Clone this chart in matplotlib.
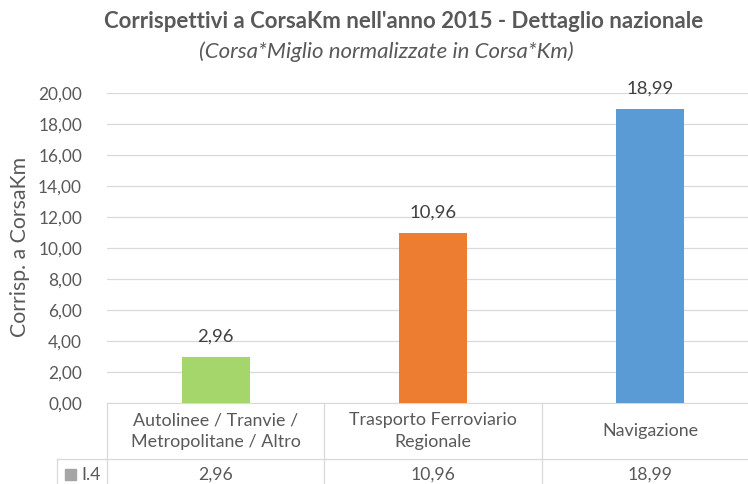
import matplotlib
matplotlib.use("Agg")
import matplotlib.pyplot as plt
from matplotlib.transforms import blended_transform_factory
from matplotlib.patches import Rectangle

categories = ["Autolinee / Tranvie /\nMetropolitane / Altro",
              "Trasporto Ferroviario\nRegionale",
              "Navigazione"]
values = [2.96, 10.96, 18.99]
colors = ["#A5D66C", "#ED7D31", "#5B9BD5"]
series_name = "I.4"
yticks = [0, 2, 4, 6, 8, 10, 12, 14, 16, 18, 20]

def fmt(v):
    return f"{v:.2f}".replace(".", ",")

plt.rcParams["font.family"] = ["Lato", "DejaVu Sans"]
TXT = "#595959"
GRID = "#D9D9D9"

W, H = 748, 484
fig = plt.figure(figsize=(W / 100, H / 100), dpi=100)
ax = fig.add_axes([107 / W, 81 / H, (759 - 107) / W, 310 / H])

x = list(range(len(categories)))
ax.bar(x, values, width=0.313, color=colors, zorder=3)
ax.set_xlim(-0.5, 2.5)
ax.set_ylim(0, 20)
ax.set_yticks(yticks)
ax.set_yticklabels([fmt(t) for t in yticks], color=TXT, fontsize=12.4)
ax.tick_params(axis="y", length=0, pad=18)
ax.set_xticks([])
ax.grid(axis="y", color=GRID, linewidth=0.9, zorder=0)
for s in ["top", "right", "left"]:
    ax.spines[s].set_visible(False)
ax.spines["bottom"].set_color(GRID)

fig.text(20 / W, 1 - 247 / H, "Corrisp. a CorsaKm", rotation=90,
         ha="center", va="center", color=TXT, fontsize=15.3)

for xi, v in zip(x, values):
    ax.annotate(fmt(v), (xi, v), xytext=(0, 9), textcoords="offset points",
                ha="center", va="bottom", color="#404040", fontsize=13.3)

# data table below the axis
tr = blended_transform_factory(ax.transData, ax.transAxes)
row1 = -56 / 310
row2 = -140 / 310
rh_left = (57 - 107) / 217 - 0.5
for xb in [-0.5, 0.5, 1.5, 2.5]:
    ax.plot([xb, xb], [0, row2], color=GRID, lw=0.9, transform=tr, clip_on=False)
ax.plot([rh_left, 2.5], [row1, row1], color=GRID, lw=0.9, transform=tr, clip_on=False)
ax.plot([rh_left, rh_left], [row1, row2], color=GRID, lw=0.9, transform=tr, clip_on=False)

for xi, c, v in zip(x, categories, values):
    ax.text(xi, row1 / 2, c, transform=tr, ha="center", va="center",
            color=TXT, fontsize=12.9, linespacing=1.45)
    ax.text(xi, -72 / 310, fmt(v), transform=tr, ha="center", va="center",
            color=TXT, fontsize=12.7)

ax.add_patch(Rectangle(((65 - 107) / 217 - 0.5, -77 / 310), 11 / 217, 11 / 310,
                       transform=tr, color="#A5A5A5", clip_on=False))
ax.text((81 - 107) / 217 - 0.5, -72 / 310, series_name, transform=tr,
        ha="left", va="center", color=TXT, fontsize=12.7)

fig.text(404 / W, 1 - 22 / H, "Corrispettivi a CorsaKm nell'anno 2015 - Dettaglio nazionale",
         ha="center", va="center", color=TXT, fontsize=16, fontweight="bold")
fig.text(386 / W, 1 - 52 / H, "(Corsa*Miglio normalizzate in Corsa*Km)",
         ha="center", va="center", color=TXT, fontsize=16, style="italic")

fig.savefig("out.png", dpi=100)
